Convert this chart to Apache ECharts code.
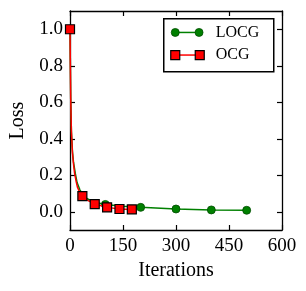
<!DOCTYPE html>
<html><head><meta charset="utf-8">
<script src="https://cdn.jsdelivr.net/npm/echarts@6/dist/echarts.min.js"></script>
<style>html,body{margin:0;padding:0;background:#fff}#c{width:306px;height:291px}</style>
</head><body><div id="c"></div>
<script>
// LOCG curve (iterations, loss)
const locgIters = [0, 2, 4, 7, 10, 15, 20, 28, 37, 50, 70, 100, 150, 200, 300, 400, 500];
const locgLoss  = [1.0, 0.62, 0.44, 0.33, 0.27, 0.21, 0.16, 0.12, 0.092, 0.07, 0.052, 0.04, 0.03, 0.024, 0.015, 0.01, 0.008];
const locgMarkerIters = [0, 100, 200, 300, 400, 500];
// OCG curve (iterations, loss)
const ocgIters = [0, 2, 4, 7, 10, 13, 17, 21, 28, 35, 50, 70, 105, 140, 175];
const ocgLoss  = [1.0, 0.62, 0.44, 0.32, 0.26, 0.21, 0.17, 0.135, 0.105, 0.086, 0.062, 0.042, 0.024, 0.015, 0.013];
const ocgMarkerIters = [0, 35, 70, 105, 140, 175];
const seriesNames = ['LOCG', 'OCG'];
const xTicks = [0, 150, 300, 450, 600];
const yTicks = [0.0, 0.2, 0.4, 0.6, 0.8, 1.0];

const FONT = 'Liberation Serif';
const GREEN = '#008000', GREEN_EDGE = '#004d00', RED = '#ff0000';
const pairs = (xs, ys) => xs.map((x, i) => [x, ys[i]]);
const symFn = (marks, shape) => (v) => marks.includes(v[0]) ? shape : 'none';

const chart = echarts.init(document.getElementById('c'), null, {renderer: 'canvas'});
const axisLine = {show: true, onZero: false, lineStyle: {color: '#000', width: 1.3}};
const tick = {show: true, inside: true, length: 5, lineStyle: {color: '#000', width: 1.2}};

// legend drawn as graphic (marker-line-marker icons, real text)
const legendGraphic = {
  type: 'group', left: 163, top: 18, children: [
    {type: 'rect', shape: {x: 0, y: 0, width: 110, height: 53},
     style: {fill: '#fff', stroke: '#000', lineWidth: 1.5}},
    {type: 'line', shape: {x1: 11, y1: 13.7, x2: 35, y2: 13.7}, style: {stroke: GREEN, lineWidth: 1.5}},
    {type: 'circle', shape: {cx: 11.5, cy: 13.7, r: 4}, style: {fill: GREEN, stroke: GREEN_EDGE, lineWidth: 0.8}},
    {type: 'circle', shape: {cx: 35.3, cy: 13.7, r: 4}, style: {fill: GREEN, stroke: GREEN_EDGE, lineWidth: 0.8}},
    {type: 'text', x: 52, y: 13.7, style: {text: seriesNames[0], font: '16px "' + FONT + '"', fill: '#000', verticalAlign: 'middle'}},
    {type: 'line', shape: {x1: 11, y1: 36.3, x2: 36, y2: 36.3}, style: {stroke: RED, lineWidth: 1.5}},
    {type: 'rect', shape: {x: 7, y: 31.8, width: 9, height: 9}, style: {fill: RED, stroke: '#000', lineWidth: 1.2}},
    {type: 'rect', shape: {x: 31.5, y: 31.8, width: 9, height: 9}, style: {fill: RED, stroke: '#000', lineWidth: 1.2}},
    {type: 'text', x: 52, y: 36.3, style: {text: seriesNames[1], font: '16px "' + FONT + '"', fill: '#000', verticalAlign: 'middle'}}
  ]
};

chart.setOption({
  animation: false,
  grid: {left: 68, right: 24, top: 11, bottom: 61, containLabel: false},
  xAxis: [{
    type: 'value', min: 0, max: 600, interval: 150,
    name: 'Iterations', nameLocation: 'middle', nameGap: 27,
    nameTextStyle: {fontFamily: FONT, fontSize: 20, color: '#000'},
    axisLine: axisLine, splitLine: {show: false}, axisTick: tick,
    axisLabel: {fontFamily: FONT, fontSize: 19, color: '#000', margin: 7,
      formatter: v => xTicks.includes(v) ? String(v) : ''}
  }, {
    type: 'value', position: 'top', min: 0, max: 600, interval: 150,
    axisLine: axisLine, splitLine: {show: false}, axisTick: tick,
    axisLabel: {show: false}
  }],
  yAxis: [{
    type: 'value', min: -0.1, max: 1.1,
    name: 'Loss', nameLocation: 'middle', nameGap: 42, nameRotate: 90,
    nameTextStyle: {fontFamily: FONT, fontSize: 20, color: '#000'},
    axisLine: axisLine, splitLine: {show: false},
    axisTick: Object.assign({customValues: yTicks}, tick),
    axisLabel: {fontFamily: FONT, fontSize: 19, color: '#000', margin: 7,
      customValues: yTicks, formatter: v => v.toFixed(1)}
  }, {
    type: 'value', position: 'right', min: -0.1, max: 1.1,
    axisLine: axisLine, splitLine: {show: false},
    axisTick: Object.assign({customValues: yTicks}, tick),
    axisLabel: {show: false}
  }],
  graphic: [legendGraphic],
  series: [{
    name: seriesNames[0], type: 'line', data: pairs(locgIters, locgLoss),
    showAllSymbol: true, symbol: symFn(locgMarkerIters, 'circle'), symbolSize: 8,
    lineStyle: {color: GREEN, width: 1.5},
    itemStyle: {color: GREEN, borderColor: GREEN_EDGE, borderWidth: 0.8},
    z: 2
  }, {
    name: seriesNames[1], type: 'line', data: pairs(ocgIters, ocgLoss),
    showAllSymbol: true, symbol: symFn(ocgMarkerIters, 'rect'), symbolSize: 9,
    lineStyle: {color: RED, width: 1.5},
    itemStyle: {color: RED, borderColor: '#000', borderWidth: 1.2},
    z: 3
  }]
});
</script></body></html>
